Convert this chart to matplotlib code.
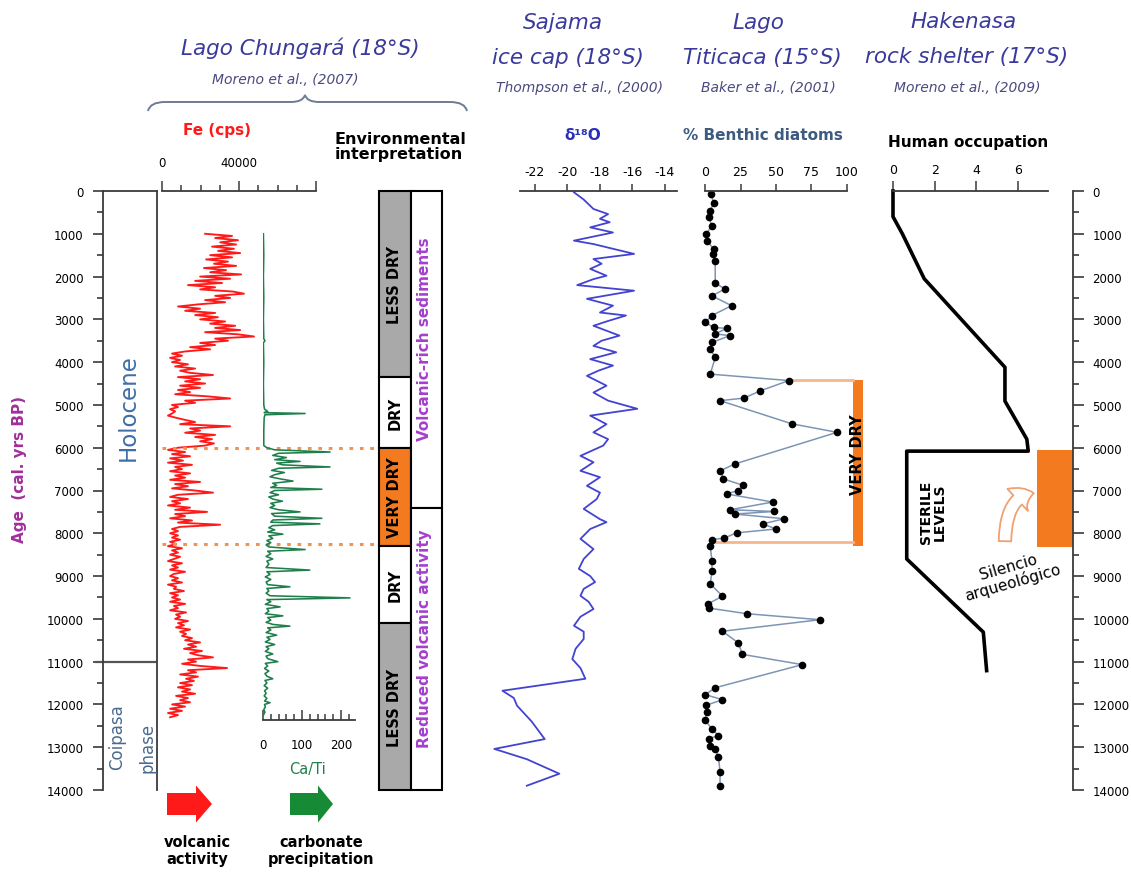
import numpy as np
import matplotlib.pyplot as plt
from matplotlib.patches import Rectangle, Polygon, FancyArrowPatch, PathPatch
from matplotlib.path import Path

plt.rcParams['font.family'] = ['DejaVu Sans']
plt.rcParams['axes.unicode_minus'] = False

# ================= 1. data =================
AGE_MAX = 14000

# Lago Chungara - Fe (cps), one value every 50 yr from 1000 to 12300 cal yr BP
fe_age = list(range(1000, 12301, 50))
fe_cps = [
    22400, 36400, 27600, 39500, 30200, 38500, 26000, 37400, 29100, 40600,
    25000, 36400, 22900, 34300, 27000, 38500, 21800, 33300, 25000, 41100,
    19800, 35400, 17200, 31200, 13500, 27600, 19800, 36900, 42600, 27600,
    35400, 22400, 32800, 18700, 8300, 19800, 12000, 27600, 17200, 29100,
    19800, 32800, 25000, 38000, 27600, 40600, 22400, 39500, 47800, 27600,
    34300, 19800, 27600, 14600, 25000, 12000, 5200, 10400, 4200, 9400,
    5200, 13500, 6800, 17200, 9400, 14600, 26500, 8300, 19800, 12000,
    22400, 9400, 19800, 8300, 14600, 6800, 23900, 35400, 12000, 17200,
    5200, 8300, 4200, 6800, 5200, 3100, 7300, 12000, 17200, 9400,
    35400, 14600, 19800, 12000, 27600, 17200, 26000, 19800, 27000, 22400,
    8300, 3100, 12000, 5200, 14600, 4200, 10900, 3100, 15600, 6800,
    10400, 4200, 14600, 6800, 12000, 4200, 19800, 6800, 13500, 5200,
    17200, 26500, 8300, 4200, 13500, 5200, 9400, 3100, 14600, 6800,
    23400, 6800, 12000, 4200, 15600, 8300, 30200, 9400, 5200, 8300,
    4200, 8300, 5200, 9400, 4200, 7300, 3100, 10400, 5200, 8300,
    4200, 9400, 6200, 3100, 10400, 5200, 8300, 4200, 12000, 6200,
    4200, 8300, 5200, 10400, 3100, 7300, 6200, 11400, 4200, 8300,
    5200, 9400, 4200, 12000, 6200, 8300, 4200, 12500, 7300, 9400,
    6800, 13500, 8300, 11400, 7300, 14600, 9400, 12500, 10400, 15600,
    12000, 19800, 13500, 17700, 11400, 20800, 14600, 18700, 26500, 13500,
    17700, 10400, 19800, 33800, 13500, 17700, 9400, 18700, 12500, 16600,
    9400, 15600, 8300, 14600, 10400, 17200, 7300, 13500, 9400, 14600,
    5200, 12000, 4200, 10400, 3100, 8300, 4200,
]

# Lago Chungara - Ca/Ti
ca_age = [
    1000, 1500, 2000, 2500, 3000, 3450, 3500, 3550, 4000, 4500,
    5000, 5100, 5150, 5180, 5200, 5230, 5300, 5600, 5950, 6000,
    6050, 6100, 6130, 6180, 6230, 6280, 6320, 6360, 6400, 6450,
    6480, 6530, 6580, 6630, 6680, 6730, 6780, 6830, 6880, 6930,
    6970, 7000, 7050, 7100, 7150, 7200, 7250, 7300, 7350, 7400,
    7450, 7500, 7540, 7600, 7650, 7690, 7740, 7780, 7820, 7870,
    7920, 7970, 8020, 8060, 8120, 8170, 8220, 8270, 8320, 8380,
    8420, 8480, 8540, 8600, 8650, 8720, 8800, 8860, 8900, 8960,
    9020, 9080, 9140, 9200, 9250, 9290, 9350, 9400, 9460, 9510,
    9550, 9600, 9660, 9720, 9760, 9820, 9880, 9930, 9970, 10030,
    10080, 10130, 10170, 10210, 10260, 10320, 10380, 10430, 10480, 10540,
    10600, 10650, 10700, 10760, 10820, 10870, 10930, 11000, 11040, 11100,
    11160, 11220, 11280, 11340, 11400, 11440, 11500, 11560, 11620, 11680,
    11740, 11800, 11860, 11920, 11960, 12000, 12060, 12120, 12180, 12250,
]
ca_ti = [
    1, 2, 1, 2, 1, 2, 5, 1, 2, 1,
    2, 4, 12, 3, 108, 5, 3, 2, 2, 10,
    30, 172, 40, 25, 60, 30, 95, 35, 50, 172,
    40, 22, 55, 30, 18, 45, 77, 25, 35, 20,
    151, 30, 18, 40, 15, 25, 50, 20, 30, 18,
    40, 95, 22, 30, 151, 25, 20, 146, 25, 15,
    30, 12, 51, 15, 25, 10, 20, 8, 15, 108,
    12, 20, 8, 25, 10, 15, 8, 120, 10, 18,
    6, 20, 8, 12, 69, 10, 15, 8, 18, 223,
    10, 20, 6, 44, 10, 15, 6, 51, 12, 20,
    8, 25, 69, 12, 20, 8, 35, 10, 18, 6,
    30, 8, 15, 6, 25, 8, 12, 38, 6, 12,
    4, 15, 5, 10, 25, 5, 10, 3, 12, 4,
    8, 3, 10, 4, 18, 4, 6, 2, 5, 1,
]

# environmental interpretation columns
env_bounds = [0, 4350, 6000, 8300, 10100, 14000]
env_labels = ['LESS DRY', 'DRY', 'VERY DRY', 'DRY', 'LESS DRY']
env_colors = ['#a9a9a9', 'white', '#f47a20', 'white', '#a9a9a9']
volc_bounds = [0, 7400, 14000]
volc_labels = ['Volcanic-rich sediments', 'Reduced volcanic activity']
very_dry_lines = [6000, 8250]

# Sajama ice cap - d18O
d18o_age = [
    30, 200, 420, 540, 650, 730, 850, 970, 1160, 1240,
    1470, 1590, 1700, 1820, 1980, 2060, 2200, 2330, 2520, 2680,
    2840, 2910, 3050, 3150, 3380, 3500, 3620, 3770, 3930, 4080,
    4200, 4320, 4550, 4710, 4900, 5090, 5250, 5450, 5640, 5800,
    5950, 6190, 6340, 6540, 6690, 6890, 7050, 7200, 7430, 7670,
    7740, 7900, 8130, 8370, 8600, 8830, 9000, 9140, 9300, 9460,
    9600, 9770, 9950, 10160, 10300, 10470, 10700, 10940, 11150, 11400,
    11680, 11850, 12030, 12400, 12810, 13040, 13280, 13620, 13900,
]
d18o = [
    -19.6, -19.0, -18.4, -17.5, -18.0, -17.4, -18.6, -17.2, -19.6, -18.4,
    -15.9, -18.4, -17.9, -18.6, -17.6, -18.4, -19.4, -15.9, -18.8, -17.2,
    -18.0, -16.4, -17.6, -18.4, -16.8, -17.9, -18.4, -17.0, -18.6, -17.2,
    -18.1, -18.8, -17.6, -18.4, -17.5, -15.7, -18.6, -17.6, -18.4, -17.5,
    -17.8, -19.2, -18.4, -19.2, -18.0, -18.8, -18.0, -18.2, -19.0, -18.0,
    -17.6, -18.6, -19.2, -18.4, -19.0, -19.3, -18.6, -18.3, -19.0, -19.2,
    -18.7, -18.4, -19.2, -19.6, -19.0, -19.0, -19.5, -19.7, -19.2, -18.9,
    -24.0, -23.3, -23.1, -22.2, -21.4, -24.5, -22.5, -20.5, -22.5,
]

# Lago Titicaca - % benthic diatoms
diatom_age = [
    70, 280, 460, 610, 810, 1000, 1160, 1355, 1470, 1630,
    2150, 2290, 2450, 2680, 2910, 3070, 3190, 3210, 3340, 3380,
    3540, 3690, 3890, 4280, 4430, 4670, 4840, 4900, 5440, 5640,
    6380, 6540, 6730, 6880, 7000, 7080, 7270, 7450, 7490, 7550,
    7660, 7780, 7900, 7990, 8110, 8150, 8300, 8640, 8890, 9180,
    9470, 9650, 9750, 9880, 10020, 10290, 10560, 10830, 11070, 11610,
    11770, 11890, 12020, 12180, 12370, 12570, 12730, 12800, 12960, 13040,
    13230, 13580, 13900,
]
diatom = [
    4.4, 6, 3.7, 2.5, 4.9, 1, 1.4, 6, 5.3, 7.2,
    7.2, 14, 4.9, 18.7, 4.9, 0.2, 6, 15.3, 7.2, 17.6,
    4.9, 3.7, 7.2, 3.7, 59, 39, 27.5, 10.6, 61, 93,
    21, 10.6, 13, 27, 23.4, 15.3, 47.7, 17.6, 48.8, 21,
    55.8, 40.7, 50, 22.2, 13.7, 4.9, 3.7, 4.9, 4.9, 3.7,
    12.3, 2.1, 3, 29.6, 81, 12.3, 23.4, 26.4, 68.5, 7.2,
    0.2, 12.3, 0.7, 1.4, 0, 4.9, 9.5, 2.5, 3.7, 7.2,
    9.5, 10.6, 10.6,
]
titicaca_dry = [4420, 8300]

# Hakenasa - human occupation
human_age = [0, 600, 1000, 2050, 4120, 4910, 5800, 6080, 6080, 8600, 10310, 11210]
human_occ = [0, 0, 0.45, 1.5, 5.38, 5.38, 6.43, 6.5, 0.66, 0.66, 4.34, 4.5]
sterile = [6050, 8320]

# ================= 2. figure and helpers =================
W, H = 1131, 879
SPINE = '#3a3a3a'
TITLE = '#3a3a9c'
REF = '#4a4a80'
ORANGE = '#f47a20'

fig = plt.figure(figsize=(W / 100, H / 100), dpi=100)


def panel(x0, x1, y0=192, y1=791):
    ax = fig.add_axes([x0 / W, 1 - y1 / H, (x1 - x0) / W, (y1 - y0) / H])
    ax.set_ylim(AGE_MAX, 0)
    ax.patch.set_alpha(0)
    for s in ax.spines.values():
        s.set_visible(False)
        s.set_color(SPINE)
        s.set_linewidth(1.3)
    ax.set_xticks([])
    ax.set_yticks([])
    return ax


# ---------------- age axis + Holocene / Coipasa box ----------------
ax0 = panel(103, 157)
ax0.set_xlim(0, 1)
for s in ['left', 'right', 'top']:
    ax0.spines[s].set_visible(True)
ax0.set_yticks(np.arange(0, AGE_MAX + 1, 1000))
ax0.set_yticks(np.arange(0, AGE_MAX + 1, 500), minor=True)
ax0.tick_params(axis='y', which='major', length=7, width=1.2, pad=7, labelsize=8.5, color=SPINE)
ax0.tick_params(axis='y', which='minor', length=4, width=1.2, color=SPINE)
ax0.hlines(11000, -0.15, 1, color='#555555', lw=1.6, clip_on=False)

# ---------------- Fe ----------------
ax_fe = panel(162, 316)
ax_fe.set_xlim(0, 80000)
ax_fe.spines['top'].set_visible(True)
ax_fe.xaxis.tick_top()
ax_fe.set_xticks([0, 40000, 80000], ['0', '40000', ''])
ax_fe.set_xticks(np.arange(0, 80001, 10000), minor=True)
ax_fe.tick_params(axis='x', which='major', length=7, width=1.1, pad=9, labelsize=8.5, color=SPINE)
ax_fe.tick_params(axis='x', which='minor', length=4, width=1.1, color=SPINE)
ax_fe.plot(fe_cps, fe_age, color='#ff1a1a', lw=1.35)
for a in very_dry_lines:
    ax_fe.plot([0, 1.415], [a, a], transform=ax_fe.get_yaxis_transform(),
               ls=(0, (1.2, 2.2)), color='#f29350', lw=2.2, clip_on=False, zorder=5)

# ---------------- Ca/Ti ----------------
ax_ca = panel(263, 355)
ax_ca.set_xlim(0, 236)
ax_ca.spines['bottom'].set_visible(True)
ax_ca.spines['bottom'].set_position(('data', 12360))
ax_ca.set_xticks([0, 100, 200])
ax_ca.set_xticks(np.arange(0, 221, 20), minor=True)
ax_ca.tick_params(axis='x', which='major', direction='in', length=7, width=1.1, pad=13,
                  labelsize=8.5, color=SPINE)
ax_ca.tick_params(axis='x', which='minor', direction='in', length=4, width=1.1, color=SPINE)
ax_ca.plot(ca_ti, ca_age, color='#1f7f4c', lw=1.15)

# ---------------- environmental interpretation ----------------
ax_env = panel(379, 442)
ax_env.set_xlim(0, 2)
for lo, hi, lab, col in zip(env_bounds[:-1], env_bounds[1:], env_labels, env_colors):
    ax_env.add_patch(Rectangle((0, lo), 1, hi - lo, facecolor=col, edgecolor='black',
                               lw=1.5, clip_on=False))
    ax_env.text(0.5, (lo + hi) / 2, lab, rotation=90, ha='center', va='center',
                fontsize=10.5, fontweight='bold')
for lo, hi, lab in zip(volc_bounds[:-1], volc_bounds[1:], volc_labels):
    ax_env.add_patch(Rectangle((1, lo), 1, hi - lo, facecolor='white', edgecolor='black',
                               lw=1.5, clip_on=False))
    ax_env.text(1.45, (lo + hi) / 2 - 250, lab, rotation=90, ha='center', va='center',
                fontsize=11, fontweight='bold', color='#a43fcc')

# ---------------- Sajama d18O ----------------
ax_sj = panel(520, 677)
ax_sj.set_xlim(-22.92, -13.26)
ax_sj.spines['top'].set_visible(True)
ax_sj.xaxis.tick_top()
ax_sj.set_xticks([-22, -20, -18, -16, -14])
ax_sj.tick_params(axis='x', length=5, width=1.1, pad=4, labelsize=9, color=SPINE)
ax_sj.plot(d18o, d18o_age, color='#4343d2', lw=1.3, clip_on=False)

# ---------------- Titicaca benthic diatoms ----------------
ax_dt = panel(705, 847)
ax_dt.set_xlim(0, 100)
ax_dt.spines['top'].set_visible(True)
ax_dt.xaxis.tick_top()
ax_dt.set_xticks([0, 25, 50, 75, 100])
ax_dt.tick_params(axis='x', length=5, width=1.1, pad=4, labelsize=9, color=SPINE)
ax_dt.fill_betweenx(titicaca_dry, 104.2, 111.3, color=ORANGE, lw=0, clip_on=False)
ax_dt.plot([59, 104.2], [titicaca_dry[0]] * 2, color='#f6b58a', lw=2, clip_on=False)
ax_dt.plot([4.9, 104.2], [8200, 8200], color='#f6b58a', lw=2, clip_on=False)
ax_dt.plot(diatom, diatom_age, color='#7d95b5', lw=1.1, marker='o', ms=4.5,
           mfc='black', mec='black', clip_on=False)
ax_dt.text(107.5, 6150, 'VERY DRY', rotation=90, ha='center', va='center',
           fontsize=10.5, fontweight='bold')

# ---------------- Hakenasa human occupation ----------------
ax_hu = panel(893, 1073)
ax_hu.set_xlim(0, 8.65)
ax_hu.spines['top'].set_visible(True)
ax_hu.spines['top'].set_bounds(0, 7.45)
ax_hu.xaxis.tick_top()
ax_hu.set_xticks([0, 2, 4, 6])
ax_hu.tick_params(axis='x', length=7, width=1.1, pad=4, labelsize=9, color=SPINE)
ax_hu.spines['right'].set_visible(True)
ax_hu.yaxis.tick_right()
ax_hu.set_yticks(np.arange(0, AGE_MAX + 1, 1000))
ax_hu.set_yticks(np.arange(0, AGE_MAX + 1, 500), minor=True)
ax_hu.tick_params(axis='y', which='major', length=8, width=1.2, pad=6, labelsize=8.5, color=SPINE)
ax_hu.tick_params(axis='y', which='minor', length=4, width=1.2, color=SPINE)
ax_hu.fill_betweenx(sterile, 6.92, 8.65, color=ORANGE, lw=0)
ax_hu.plot(human_occ, human_age, color='black', lw=2.6, clip_on=False)
ax_hu.text(1.92, 7480, 'STERILE\nLEVELS', rotation=90, ha='center', va='center',
           fontsize=10, fontweight='bold', linespacing=1.0)
ax_hu.text(5.65, 8950, 'Silencio\narqueológico', rotation=16, ha='center', va='center',
           fontsize=11, linespacing=1.0)
ax_hu.add_patch(FancyArrowPatch((5.38, 8250), (6.9, 7060),
                                connectionstyle='angle3,angleA=90,angleB=0',
                                arrowstyle='simple,head_length=0.7,head_width=1.2,tail_width=0.5',
                                mutation_scale=18, fc='white', ec='#f2a070', lw=1.3))

# ================= 3. overlay for headers and annotations (pixel coords) =================
ov = fig.add_axes([0, 0, 1, 1])
ov.set_xlim(0, W)
ov.set_ylim(H, 0)
ov.axis('off')
ov.patch.set_alpha(0)


def txt(x, y, s, **kw):
    kw.setdefault('ha', 'center')
    kw.setdefault('va', 'center')
    ov.text(x, y, s, **kw)


# site titles
txt(300, 48, 'Lago Chungará (18°S)', fontsize=15.5, style='italic', color=TITLE)
txt(285, 80, 'Moreno et al., (2007)', fontsize=10, style='italic', color=REF)
txt(563, 23, 'Sajama', fontsize=15.5, style='italic', color=TITLE)
txt(568, 58, 'ice cap (18°S)', fontsize=15.5, style='italic', color=TITLE)
txt(580, 88, 'Thompson et al., (2000)', fontsize=10, style='italic', color=REF)
txt(758, 23, 'Lago', fontsize=15.5, style='italic', color=TITLE)
txt(762, 58, 'Titicaca (15°S)', fontsize=15.5, style='italic', color=TITLE)
txt(768, 88, 'Baker et al., (2001)', fontsize=10, style='italic', color=REF)
txt(963, 22, 'Hakenasa', fontsize=15.5, style='italic', color=TITLE)
txt(967, 57, 'rock shelter (17°S)', fontsize=15.5, style='italic', color=TITLE)
txt(967, 88, 'Moreno et al., (2009)', fontsize=10, style='italic', color=REF)

# brace under Lago Chungara
brace = Path([(148, 112), (150, 103), (165, 103), (291, 103), (303, 103), (305, 96),
              (307, 103), (319, 103), (450, 103), (465, 103), (467, 112)],
             [Path.MOVETO, Path.CURVE3, Path.CURVE3, Path.LINETO, Path.CURVE3, Path.CURVE3,
              Path.CURVE3, Path.CURVE3, Path.LINETO, Path.CURVE3, Path.CURVE3])
ov.add_patch(PathPatch(brace, fc='none', ec='#6d7c94', lw=1.4))

# panel headers
txt(217, 130, 'Fe (cps)', fontsize=11, fontweight='bold', color='#ff1a1a')
txt(335, 147, 'Environmental\ninterpretation', fontsize=11.5, fontweight='bold', ha='left',
    linespacing=1.05)
txt(583, 135, 'δ¹⁸O', fontsize=11, fontweight='bold', color='#2a30b8')
txt(763, 135, '% Benthic diatoms', fontsize=11, fontweight='bold', color='#3d5a80')
txt(968, 142, 'Human occupation', fontsize=11, fontweight='bold')
txt(307, 770, 'Ca/Ti', fontsize=10.5, color='#1f7f4c')

# left-hand labels
txt(20, 470, 'Age  (cal. yrs BP)', fontsize=11, fontweight='bold', color='#a0309a', rotation=90)
txt(128, 408, 'Holocene', fontsize=16.5, color='#3e6ea8', rotation=90)
txt(117, 737, 'Coipasa', fontsize=12, color='#4a6a8e', rotation=90)
txt(148, 748, 'phase', fontsize=12, color='#4a6a8e', rotation=90)


# block arrows below the Chungara panel
def block_arrow(x0, x1, head_x, yc, body, head, color):
    pts = [(x0, yc - body / 2), (head_x, yc - body / 2), (head_x, yc - head / 2), (x1, yc),
           (head_x, yc + head / 2), (head_x, yc + body / 2), (x0, yc + body / 2)]
    ov.add_patch(Polygon(pts, closed=True, fc=color, ec='none'))


block_arrow(167, 212, 196, 805, 22, 37, '#ff1a1a')
block_arrow(290, 333, 318, 805, 22, 37, '#178a36')
txt(197, 851, 'volcanic\nactivity', fontsize=10.5, fontweight='bold', linespacing=1.15)
txt(321, 851, 'carbonate\nprecipitation', fontsize=10.5, fontweight='bold', linespacing=1.15)

fig.savefig('out.png', dpi=100)
